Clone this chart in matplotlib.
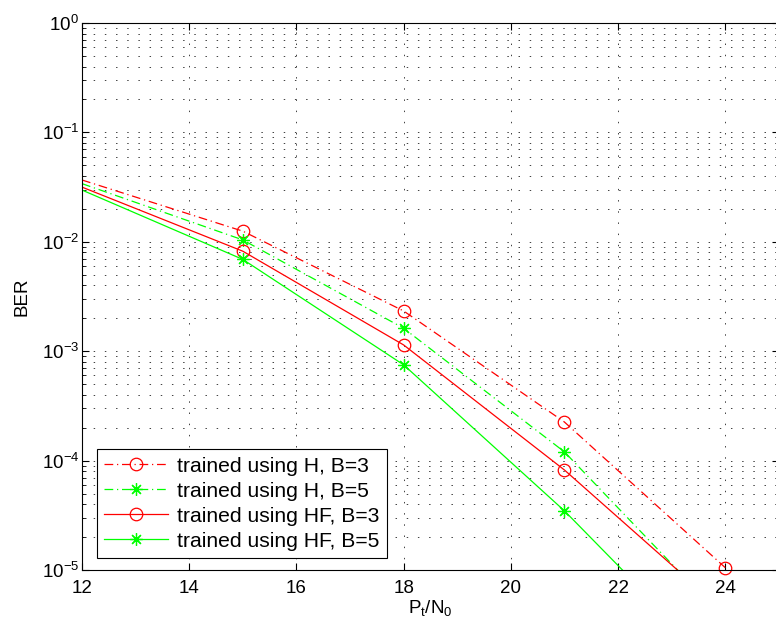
import matplotlib
matplotlib.use('Agg')
import matplotlib.pyplot as plt

plt.rcParams['font.family'] = ['Liberation Sans', 'DejaVu Sans']
plt.rcParams['mathtext.fontset'] = 'custom'
plt.rcParams['mathtext.rm'] = 'Liberation Sans'
plt.rcParams['mathtext.it'] = 'Liberation Sans'
plt.rcParams['font.size'] = 13.5

# SNR points (first point only carries the line to the left edge, no marker)
snr = [12, 15, 18, 21, 24]

ber_h_b3 = [3.67e-2, 1.25e-2, 2.33e-3, 2.25e-4, 1.05e-5]
ber_h_b5 = [3.40e-2, 1.04e-2, 1.62e-3, 1.20e-4, 3.5e-6]
ber_hf_b3 = [3.16e-2, 8.2e-3, 1.14e-3, 8.2e-5, 4.1e-6]
ber_hf_b5 = [2.97e-2, 6.9e-3, 7.5e-4, 3.47e-5, 1.1e-6]

labels = ['trained using H, B=3', 'trained using H, B=5',
          'trained using HF, B=3', 'trained using HF, B=5']

fig = plt.figure(figsize=(7.76, 6.35), dpi=100)
ax = fig.add_axes([0.1057, 0.1024, 0.898, 0.8614])

dashdot = (0, (7, 3, 1, 3))
series = [
    (ber_h_b3, 'red', dashdot, 'o'),
    (ber_h_b5, 'lime', dashdot, (8, 2, 0)),
    (ber_hf_b3, 'red', '-', 'o'),
    (ber_hf_b5, 'lime', '-', (8, 2, 0)),
]

ymin, ymax = 1e-5, 1
for (ber, col, ls, mk), lab in zip(series, labels):
    ax.semilogy(snr, ber, color=col, linestyle=ls, linewidth=0.9)
    # markers inside the y range are drawn unclipped, like MATLAB does
    xs = [x for x, b in zip(snr[1:], ber[1:]) if b >= ymin * 0.999]
    ys = [b for b in ber[1:] if b >= ymin * 0.999]
    ax.plot(xs, ys, linestyle='none', marker=mk, markersize=9,
            markerfacecolor='none', markeredgecolor=col, markeredgewidth=0.9,
            clip_on=False)
    # proxy for the legend
    ax.plot([], [], color=col, linestyle=ls, linewidth=0.9, marker=mk,
            markersize=9, markerfacecolor='none', markeredgecolor=col,
            markeredgewidth=0.9, label=lab)

ax.set_xlim(12, 25)
ax.set_ylim(ymin, ymax)
ax.set_xticks([12, 14, 16, 18, 20, 22, 24])

ax.tick_params(which='both', direction='in', top=True, right=True)
ax.tick_params(which='major', length=5, width=0.8)
ax.tick_params(which='minor', length=3, width=0.6)
ax.tick_params(axis='x', which='major', pad=7)
ax.tick_params(axis='y', which='major', pad=2)

grid_ls = (0, (1.5, 10))
ax.xaxis.grid(True, which='major', color='0.25', linestyle=grid_ls, linewidth=0.7)
ax.yaxis.grid(True, which='both', color='0.25', linestyle=grid_ls, linewidth=0.7)

ax.set_xlabel(r'$\mathregular{P_t/N_0}$', labelpad=1)
ax.set_ylabel('BER', labelpad=8)

leg = ax.legend(loc='lower left', bbox_to_anchor=(0.0215, 0.022), fancybox=False,
                edgecolor='black', framealpha=1, borderaxespad=0,
                fontsize=15.2, handlelength=3.0, labelspacing=0.28,
                borderpad=0.35, handletextpad=0.45)
leg.get_frame().set_linewidth(0.8)

fig.savefig('out.png', dpi=100)
